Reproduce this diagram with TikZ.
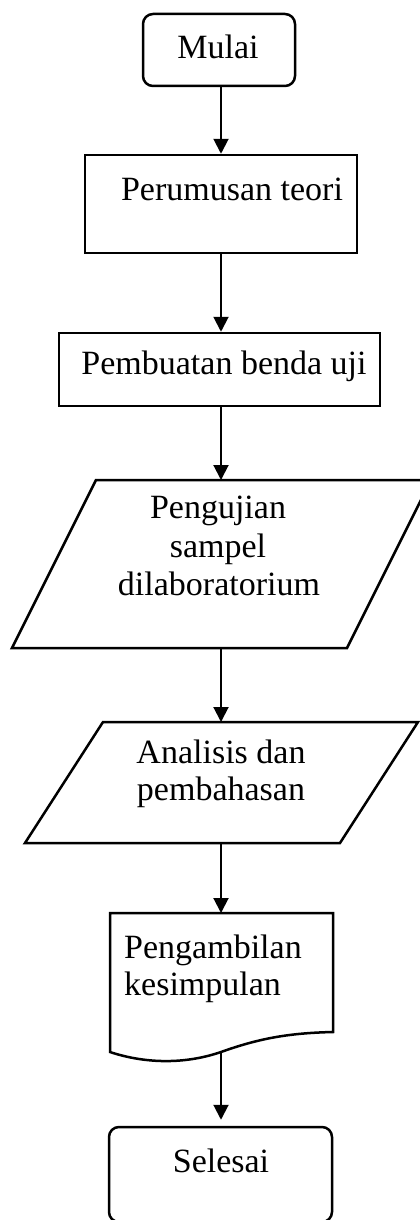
\documentclass[tikz,border=0pt]{standalone}
\usepackage{fontspec}
\setmainfont{Liberation Serif}
\usetikzlibrary{arrows.meta}
\begin{document}
\begin{tikzpicture}[x=1pt,y=-1pt,
  box/.style={draw,line width=2.5pt,inner sep=0pt},
  rbox/.style={box,rounded corners=10pt},
  shp/.style={line width=2.5pt,line join=miter},
  lbl/.style={inner sep=0pt,anchor=base,font=\fontsize{34}{39}\selectfont},
  lblw/.style={lbl,anchor=base west},
  arr/.style={line width=2pt,-{Triangle[width=15pt,length=15pt]}}]
\useasboundingbox (0,0) rectangle (420,1220);
\clip (0,0) rectangle (420,1220);
\fill[white] (0,0) rectangle (420,1220);
\coordinate (ax) at (221,0);
% start
\node[rbox,minimum width=152pt,minimum height=72pt] (mulai) at (219,50) {};
\node[lbl] (tmulai) at (218,59) {Mulai};
% theory
\node[box,minimum width=272pt,minimum height=98pt] (rumus) at (221,204) {};
\node[lbl] (trumus) at (232,200) {Perumusan teori};
% specimen
\node[box,minimum width=321pt,minimum height=73pt] (buat) at (219.5,369.5) {};
\node[lbl] (tbuat) at (224,374) {Pembuatan benda uji};
% testing (parallelogram)
\draw[shp] (96,480) -- (431,480) -- (347,648) -- (12,648) -- cycle;
\coordinate (ujiN) at (221,480);
\coordinate (ujiS) at (221,648);
\node[lbl] (tuji1) at (218,518) {Pengujian};
\node[lbl] (tuji2) at (218,557) {sampel};
\node[lbl] (tuji3) at (219,595) {dilaboratorium};
% analysis (parallelogram)
\draw[shp] (103,722) -- (418,722) -- (340,843) -- (25,843) -- cycle;
\coordinate (anaN) at (221,722);
\coordinate (anaS) at (221,843);
\node[lbl] (tana1) at (221,763) {Analisis dan};
\node[lbl] (tana2) at (221,800) {pembahasan};
% conclusion (document)
\draw[shp] (110,1052) -- (110,913) -- (333,913) -- (333,1032)
  .. controls (290,1033) and (260,1038) .. (221,1052)
  .. controls (180,1066) and (140,1062) .. (110,1052) -- cycle;
\coordinate (docN) at (221,913);
\coordinate (docS) at (221,1052);
\node[lblw] (tdoc1) at (124,958) {Pengambilan};
\node[lblw] (tdoc2) at (124,995) {kesimpulan};
% end
\node[rbox,minimum width=223pt,minimum height=95pt] (selesai) at (220.5,1174.5) {};
\node[lbl] (tselesai) at (221,1172) {Selesai};
% connectors
\draw[arr] (mulai.south -| ax) -- (rumus.north -| ax);
\draw[arr] (rumus.south -| ax) -- (buat.north -| ax);
\draw[arr] (buat.south -| ax) -- (ujiN);
\draw[arr] (ujiS) -- (anaN);
\draw[arr] (anaS) -- (docN);
\draw[arr,shorten >=6pt] (docS) -- (selesai.north -| ax);
\end{tikzpicture}
\end{document}
